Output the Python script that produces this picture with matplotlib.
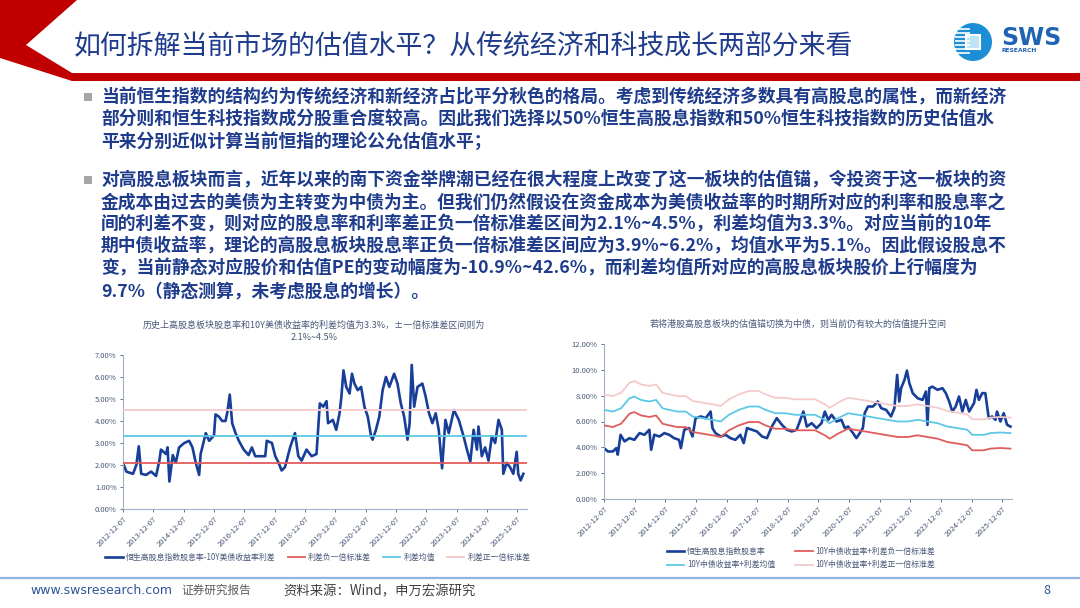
import matplotlib
matplotlib.use("Agg")
import matplotlib.pyplot as plt
from matplotlib.patches import Polygon, Circle, Rectangle
from matplotlib.ticker import FuncFormatter

plt.rcParams['font.family'] = ['Noto Sans CJK SC', 'DejaVu Sans']

W, H = 1080, 608

TITLE = "如何拆解当前市场的估值水平？从传统经济和科技成长两部分来看"

BODY_1 = [
    "当前恒生指数的结构约为传统经济和新经济占比平分秋色的格局。考虑到传统经济多数具有高股息的属性，而新经济",
    "部分则和恒生科技指数成分股重合度较高。因此我们选择以50%恒生高股息指数和50%恒生科技指数的历史估值水",
    "平来分别近似计算当前恒指的理论公允估值水平；",
]
BODY_2 = [
    "对高股息板块而言，近年以来的南下资金举牌潮已经在很大程度上改变了这一板块的估值锚，令投资于这一板块的资",
    "金成本由过去的美债为主转变为中债为主。但我们仍然假设在资金成本为美债收益率的时期所对应的利率和股息率之",
    "间的利差不变，则对应的股息率和利率差正负一倍标准差区间为2.1%~4.5%，利差均值为3.3%。对应当前的10年",
    "期中债收益率，理论的高股息板块股息率正负一倍标准差区间应为3.9%~6.2%，均值水平为5.1%。因此假设股息不",
    "变，当前静态对应股价和估值PE的变动幅度为-10.9%~42.6%，而利差均值所对应的高股息板块股价上行幅度为",
    "9.7%（静态测算，未考虑股息的增长）。",
]

LEFT_TITLE = ["历史上高股息板块股息率和10Y美债收益率的利差均值为3.3%，±一倍标准差区间则为",
              "2.1%~4.5%"]
RIGHT_TITLE = "若将港股高股息板块的估值锚切换为中债，则当前仍有较大的估值提升空间"

TICK_POS = [2012.93, 2013.93, 2014.93, 2015.93, 2016.93, 2017.93, 2018.93,
            2019.93, 2020.93, 2021.93, 2022.93, 2023.93, 2024.93, 2025.93]
TICK_LABELS = ["2012-12-07", "2013-12-07", "2014-12-07", "2015-12-07", "2016-12-07",
               "2017-12-07", "2018-12-07", "2019-12-07", "2020-12-07", "2021-12-07",
               "2022-12-07", "2023-12-07", "2024-12-07", "2025-12-07"]

# spread stats (%)
SPREAD_LOW = 2.1
SPREAD_MEAN = 3.3
SPREAD_HIGH = 4.5

# left: HS high dividend yield minus 10Y UST (%)
spread_t = [2012.93, 2013.04, 2013.26, 2013.37, 2013.45, 2013.53, 2013.69, 2013.86, 2014.02, 2014.13,
            2014.18, 2014.35, 2014.40, 2014.46, 2014.57, 2014.67, 2014.78, 2014.95, 2015.11, 2015.22,
            2015.33, 2015.44, 2015.49, 2015.66, 2015.77, 2015.93, 2015.98, 2016.09, 2016.20, 2016.31,
            2016.37, 2016.45, 2016.53, 2016.64, 2016.75, 2016.91, 2017.07, 2017.18, 2017.29, 2017.46,
            2017.62, 2017.67, 2017.84, 2017.95, 2018.06, 2018.16, 2018.27, 2018.44, 2018.60, 2018.71,
            2018.82, 2018.98, 2019.15, 2019.31, 2019.42, 2019.53, 2019.64, 2019.69, 2019.85, 2019.96,
            2020.07, 2020.13, 2020.20, 2020.29, 2020.40, 2020.48, 2020.56, 2020.67, 2020.78, 2020.89,
            2021.00, 2021.11, 2021.16, 2021.27, 2021.38, 2021.49, 2021.60, 2021.71, 2021.87, 2021.98,
            2022.09, 2022.20, 2022.31, 2022.38, 2022.45, 2022.53, 2022.64, 2022.80, 2022.91, 2023.02,
            2023.13, 2023.24, 2023.34, 2023.45, 2023.56, 2023.67, 2023.84, 2024.00, 2024.16, 2024.27,
            2024.38, 2024.49, 2024.60, 2024.65, 2024.76, 2024.87, 2024.98, 2025.09, 2025.20, 2025.31,
            2025.42, 2025.47, 2025.58, 2025.69, 2025.80, 2025.91, 2025.96, 2026.04, 2026.13]
spread_v = [2.10, 1.70, 1.60, 2.00, 2.85, 1.60, 1.55, 1.70, 1.50, 2.20,
            2.70, 2.50, 2.80, 1.25, 2.45, 2.10, 2.80, 3.00, 3.10, 2.80,
            2.10, 1.55, 2.50, 3.45, 3.10, 3.35, 4.30, 4.20, 4.00, 4.00,
            4.40, 5.20, 3.90, 3.45, 3.10, 2.70, 2.45, 2.80, 2.40, 2.40,
            2.40, 3.10, 3.00, 2.40, 2.10, 1.75, 1.90, 2.80, 3.45, 2.40,
            2.20, 2.70, 2.40, 2.50, 4.80, 4.65, 4.90, 3.90, 4.05, 3.60,
            4.35, 5.10, 6.30, 5.55, 5.25, 6.15, 5.70, 5.40, 5.55, 4.65,
            4.20, 3.30, 3.15, 3.60, 4.20, 5.40, 6.00, 5.55, 6.15, 5.70,
            4.80, 4.20, 3.15, 3.90, 6.55, 4.65, 5.55, 5.70, 5.10, 4.35,
            3.90, 4.35, 3.60, 1.85, 4.05, 3.45, 4.50, 4.05, 3.30, 2.70,
            2.15, 3.60, 2.70, 3.75, 2.40, 2.80, 2.20, 3.30, 3.00, 4.05,
            3.60, 1.60, 2.10, 1.90, 1.60, 2.60, 1.60, 1.30, 1.60]

# right: HS high dividend index dividend yield (%)
dy_t = [2012.93, 2013.06, 2013.22, 2013.33, 2013.38, 2013.47, 2013.60, 2013.76, 2013.92, 2014.09,
        2014.25, 2014.41, 2014.47, 2014.57, 2014.74, 2014.90, 2015.06, 2015.22, 2015.38, 2015.44,
        2015.55, 2015.71, 2015.82, 2015.92, 2016.09, 2016.25, 2016.41, 2016.47, 2016.57, 2016.74,
        2016.90, 2017.06, 2017.22, 2017.38, 2017.49, 2017.60, 2017.76, 2017.92, 2018.09, 2018.25,
        2018.41, 2018.57, 2018.74, 2018.90, 2019.06, 2019.22, 2019.38, 2019.44, 2019.55, 2019.71,
        2019.87, 2020.03, 2020.14, 2020.25, 2020.36, 2020.52, 2020.68, 2020.79, 2020.90, 2021.06,
        2021.17, 2021.28, 2021.38, 2021.44, 2021.55, 2021.71, 2021.87, 2021.98, 2022.14, 2022.30,
        2022.41, 2022.50, 2022.57, 2022.63, 2022.74, 2022.82, 2022.90, 2023.01, 2023.17, 2023.33,
        2023.44, 2023.49, 2023.55, 2023.65, 2023.82, 2023.98, 2024.09, 2024.20, 2024.30, 2024.41,
        2024.52, 2024.63, 2024.74, 2024.85, 2025.01, 2025.09, 2025.17, 2025.28, 2025.38, 2025.49,
        2025.60, 2025.71, 2025.76, 2025.87, 2025.98, 2026.09, 2026.20]
dy_v = [3.94, 3.68, 3.68, 3.94, 3.43, 4.97, 4.46, 4.71, 4.58, 5.10,
        4.97, 5.36, 3.81, 4.97, 4.84, 5.10, 4.97, 4.71, 4.58, 3.94,
        5.36, 5.49, 4.84, 6.26, 6.39, 6.26, 6.77, 5.49, 5.10, 4.84,
        4.97, 4.71, 4.58, 4.97, 4.33, 5.49, 5.36, 5.23, 4.84, 4.71,
        5.61, 6.26, 5.74, 5.36, 5.23, 5.36, 6.39, 6.77, 5.61, 5.87,
        5.49, 5.87, 6.77, 6.13, 6.52, 6.00, 6.13, 5.49, 5.61, 5.10,
        4.71, 5.10, 5.49, 6.64, 7.16, 7.16, 7.55, 7.03, 6.90, 6.39,
        7.03, 9.61, 7.55, 8.58, 9.22, 9.94, 8.96, 8.19, 7.80, 7.67,
        8.32, 5.74, 8.58, 8.70, 8.45, 8.58, 8.19, 7.55, 6.77, 7.16,
        7.93, 6.77, 7.67, 6.77, 7.42, 8.45, 7.67, 8.20, 8.19, 6.26,
        6.39, 6.13, 6.77, 6.00, 6.64, 5.74, 5.61]

# 10Y China government bond yield (%)
cn10y_t = [2012.93, 2013.22, 2013.49, 2013.76, 2013.92, 2014.14, 2014.41, 2014.63, 2014.84, 2015.06,
           2015.33, 2015.60, 2015.82, 2016.14, 2016.47, 2016.74, 2017.01, 2017.33, 2017.66, 2017.98,
           2018.20, 2018.52, 2018.84, 2019.17, 2019.49, 2019.82, 2020.14, 2020.30, 2020.57, 2020.90,
           2021.22, 2021.55, 2021.87, 2022.19, 2022.52, 2022.84, 2023.17, 2023.49, 2023.82, 2024.14,
           2024.47, 2024.79, 2024.95, 2025.11, 2025.33, 2025.54, 2025.87, 2026.20]
cn10y_v = [3.60, 3.47, 3.73, 4.50, 4.63, 4.37, 4.25, 4.37, 3.73, 3.60,
           3.47, 3.47, 3.09, 2.96, 2.83, 2.70, 3.22, 3.60, 3.86, 3.86,
           3.60, 3.34, 3.34, 3.22, 3.22, 3.22, 2.83, 2.57, 2.96, 3.34,
           3.22, 3.09, 2.96, 2.83, 2.70, 2.70, 2.83, 2.70, 2.57, 2.31,
           2.19, 2.06, 1.67, 1.67, 1.67, 1.80, 1.85, 1.80]

LEFT_LEGEND = ["恒生高股息指数股息率-10Y美债收益率利差", "利差负一倍标准差", "利差均值", "利差正一倍标准差"]
RIGHT_LEGEND = ["恒生高股息指数股息率", "10Y中债收益率+利差负一倍标准差",
                "10Y中债收益率+利差均值", "10Y中债收益率+利差正一倍标准差"]

NAVY = "#173E98"
RED = "#E05C5C"
CYAN = "#5CC8E6"
PINK = "#F5CACA"
TEXT_BLUE = "#1F3C8C"
AX_TEXT = "#4A5878"


def px_axes(fig, x0, y0, x1, y1):
    return fig.add_axes([x0 / W, 1 - y1 / H, (x1 - x0) / W, (y1 - y0) / H])


def style_axes(ax, ymax, ystep):
    ax.set_xlim(2012.93, 2026.25)
    ax.set_ylim(0, ymax)
    ax.set_yticks([i * ystep for i in range(int(round(ymax / ystep)) + 1)])
    ax.yaxis.set_major_formatter(FuncFormatter(lambda v, p: f"{v:.2f}%"))
    ax.set_xticks(TICK_POS)
    ax.set_xticklabels(TICK_LABELS, rotation=45, ha="right", rotation_mode="anchor")
    ax.tick_params(labelsize=5.5, colors=AX_TEXT, length=2.5, width=0.6, pad=2)
    for s in ("top", "right"):
        ax.spines[s].set_visible(False)
    for s in ("left", "bottom"):
        ax.spines[s].set_color("#9FB0C8")
        ax.spines[s].set_linewidth(0.8)
    ax.patch.set_alpha(0)


fig = plt.figure(figsize=(W / 100, H / 100), dpi=100)

# ---- slide background: header, body text, footer ----
bg = fig.add_axes([0, 0, 1, 1])
bg.set_xlim(0, W)
bg.set_ylim(H, 0)
bg.axis("off")

bg.add_patch(Polygon([(0, 0), (77, 0), (26, 45), (72, 73), (W, 73), (W, 81), (72, 81), (0, 58)],
                     closed=True, color="#C00000", lw=0))
bg.text(74, 46, TITLE, fontsize=19.4, color=TEXT_BLUE, va="center", ha="left")

# logo
bg.add_patch(Circle((973, 42), 19, color="#1C8ED6", lw=0))
for yy in range(29, 57, 4):
    bg.plot([955, 970], [yy, yy], color="white", lw=1.2, solid_capstyle="butt")
bg.add_patch(Rectangle((966, 35), 14, 14, facecolor="#BFE4F8", edgecolor="white", lw=1.5))
bg.text(1001, 38, "SWS", fontsize=17, fontweight="bold", color="#1F63B3",
        family="DejaVu Sans", va="center", ha="left")
bg.text(1002, 51, "RESEARCH", fontsize=4.3, fontweight="bold", color="#1F63B3",
        family="DejaVu Sans", va="center", ha="left")

# body
for y0, lines in ((97, BODY_1), (180, BODY_2)):
    bg.add_patch(Rectangle((84, y0 - 4), 8, 8, color="#A6A6A6", lw=0))
    for i, line in enumerate(lines):
        bg.text(101, y0 + i * 22.2, line, fontsize=12.8, fontweight="bold",
                color=TEXT_BLUE, va="center", ha="left")

# chart titles
bg.text(314, 325, LEFT_TITLE[0], fontsize=6.5, color=AX_TEXT, ha="center", va="center")
bg.text(314, 338, LEFT_TITLE[1], fontsize=6.5, color=AX_TEXT, ha="center", va="center")
bg.text(798, 324, RIGHT_TITLE, fontsize=6.5, color=AX_TEXT, ha="center", va="center")

# footer
bg.plot([0, W], [578, 578], color="#8DB6E0", lw=1.6)
bg.text(30, 591, "www.swsresearch.com", fontsize=9, color="#2E5597", family="Liberation Sans Narrow",
        va="center", ha="left")
bg.text(181, 590, "证券研究报告", fontsize=8.4, color="#595959", va="center", ha="left")
bg.text(283, 591, "资料来源：Wind，申万宏源研究", fontsize=9.6, color="#404040", va="center", ha="left")
bg.text(1047, 591, "8", fontsize=9, color="#2E5597", va="center", ha="center")

# ---- left chart ----
ax1 = px_axes(fig, 123, 355, 527, 509)
h1, = ax1.plot(spread_t, spread_v, color=NAVY, lw=1.9, zorder=2)
h2 = ax1.axhline(SPREAD_LOW, color=RED, lw=1.3, zorder=3)
h3 = ax1.axhline(SPREAD_MEAN, color=CYAN, lw=1.3, zorder=3)
h4 = ax1.axhline(SPREAD_HIGH, color=PINK, lw=1.3, zorder=3)
style_axes(ax1, 7, 1)
ax1.legend([h1, h2, h3, h4], LEFT_LEGEND, loc="center", ncol=4, frameon=False,
           bbox_to_anchor=(318 / W, 1 - 557 / H), bbox_transform=fig.transFigure,
           fontsize=5.7, labelcolor=AX_TEXT, handlelength=2.2, columnspacing=1.5,
           handletextpad=0.4)

# ---- right chart ----
ax2 = px_axes(fig, 604, 344, 1012, 499)
g1, = ax2.plot(dy_t, dy_v, color=NAVY, lw=1.9, zorder=2)
g2, = ax2.plot(cn10y_t, [v + SPREAD_LOW for v in cn10y_v], color=RED, lw=1.3, zorder=3)
g3, = ax2.plot(cn10y_t, [v + SPREAD_MEAN for v in cn10y_v], color=CYAN, lw=1.3, zorder=3)
g4, = ax2.plot(cn10y_t, [v + SPREAD_HIGH for v in cn10y_v], color=PINK, lw=1.3, zorder=3)
style_axes(ax2, 12, 2)
# legend fills column-wise, so order handles to get rows (1,2) / (3,4)
ax2.legend([g1, g3, g2, g4], [RIGHT_LEGEND[0], RIGHT_LEGEND[2], RIGHT_LEGEND[1], RIGHT_LEGEND[3]],
           loc="center", ncol=2, frameon=False,
           bbox_to_anchor=(801 / W, 1 - 558 / H), bbox_transform=fig.transFigure,
           fontsize=5.7, labelcolor=AX_TEXT, handlelength=2.2, columnspacing=2.5,
           handletextpad=0.4, labelspacing=0.6)

fig.savefig("out.png", dpi=100)
